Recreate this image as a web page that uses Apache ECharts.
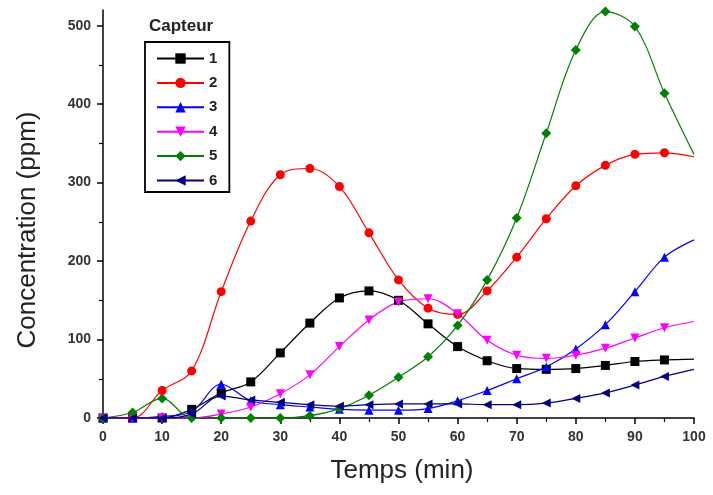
<!DOCTYPE html>
<html><head><meta charset="utf-8">
<script src="https://cdn.jsdelivr.net/npm/echarts@6/dist/echarts.min.js"></script>
<style>html,body{margin:0;padding:0;background:#fff}#c{width:713px;height:495px}</style>
</head><body><div id="c"></div>
<script>
var times = [0,5,10,15,20,25,30,35,40,45,50,55,60,65,70,75,80,85,90,95,100];
var names = ['1','2','3','4','5','6'];
var s1 = [0,0,0,11,32,46,83,121,153,162,150,120,91,73,63,62,63,67,72,74,75];
var s2 = [0,0,35,60,161,251,310,318,295,236,176,140,132,162,205,254,296,322,336,338,333];
var s3 = [0,0,2,8,43,22,17,14,11,10,10,12,22,35,50,65,88,119,161,205,227];
var s4 = [0,0,0,0,5,14,31,55,91,125,148,152,133,99,80,76,80,89,102,115,123];
var s5 = [0,7,25,0,0,0,0,3,12,29,52,78,118,176,255,363,469,518,499,414,336];
var s6 = [0,0,0,5,28,23,20,17,15,17,18,18,18,17,17,19,25,32,42,53,62];
var colors = ['#000000','#ff0000','#0000ff','#ff00ff','#008000','#000080'];
var symbols = ['rect','circle','triangle','triangle','diamond','triangle'];
var rotates = [0,0,0,180,0,90];
var sizes = [9,9,9,9,10,9];
var yMajor = [0,100,200,300,400,500];
var yMinor = [50,150,250,350,450];
var allData = [s1,s2,s3,s4,s5,s6];

var series = allData.map(function(arr, i){
  return {
    name: names[i], type: 'line', smooth: 0.35,
    symbol: symbols[i], symbolRotate: rotates[i], symbolSize: sizes[i],
    showAllSymbol: true,
    lineStyle: {color: colors[i], width: 1.2},
    itemStyle: {color: colors[i]},
    data: arr.map(function(v, j){
      var d = {value: [times[j], v]};
      if (j === arr.length - 1) d.symbol = 'none';
      return d;
    })
  };
});

var chart = echarts.init(document.getElementById('c'));
var ff = 'Liberation Sans, Arial, sans-serif';
var lab = {color:'#333', fontSize:14, fontWeight:'bold', fontFamily: ff};
chart.setOption({
  animation: false,
  title: {text: 'Capteur', left: 144, top: 13, textStyle: {fontSize: 17, fontWeight: 'bold', color: '#222', fontFamily: ff}},
  legend: {
    orient: 'vertical', left: 145, top: 42, width: 84,
    borderColor: '#000', borderWidth: 1.8, padding: [9, 12, 4, 11],
    itemWidth: 47, itemHeight: 13, itemGap: 9.4,
    textStyle: {fontSize: 15, fontWeight: 'bold', color: '#222', fontFamily: ff},
    data: names
  },
  graphic: [
    {type: 'text', x: 28, y: 230, rotation: Math.PI / 2,
     style: {text: 'Concentration (ppm)', fill: '#222', font: '26px ' + ff, textAlign: 'center', textVerticalAlign: 'middle'}},
    {type: 'text', x: 402, y: 471,
     style: {text: 'Temps (min)', fill: '#222', font: '26px ' + ff, textAlign: 'center', textVerticalAlign: 'middle'}}
  ],
  grid: {left: 103, right: 19, top: 10, bottom: 77},
  xAxis: {
    type: 'value', min: 0, max: 100, interval: 10,
    axisLine: {lineStyle: {color: '#000', width: 1.5}},
    axisTick: {inside: false, length: 6, lineStyle: {color: '#000', width: 1.5}},
    minorTick: {show: true, splitNumber: 2, length: 4, lineStyle: {color: '#000', width: 1.2}},
    axisLabel: Object.assign({margin: 12}, lab),
    splitLine: {show: false}
  },
  yAxis: [{
    type: 'value', min: 0, max: 520, interval: 100,
    axisLine: {show: true, lineStyle: {color: '#000', width: 1.5}},
    axisTick: {show: true, length: 6, customValues: yMajor, lineStyle: {color: '#000', width: 1.5}},
    axisLabel: Object.assign({margin: 12, customValues: yMajor}, lab),
    splitLine: {show: false}
  }, {
    type: 'value', min: 0, max: 520, interval: 50, position: 'left', offset: 0,
    axisLine: {show: false},
    axisTick: {show: true, length: 4, customValues: yMinor, lineStyle: {color: '#000', width: 1.2}},
    axisLabel: {show: false},
    splitLine: {show: false}
  }],
  series: series
});
</script></body></html>
